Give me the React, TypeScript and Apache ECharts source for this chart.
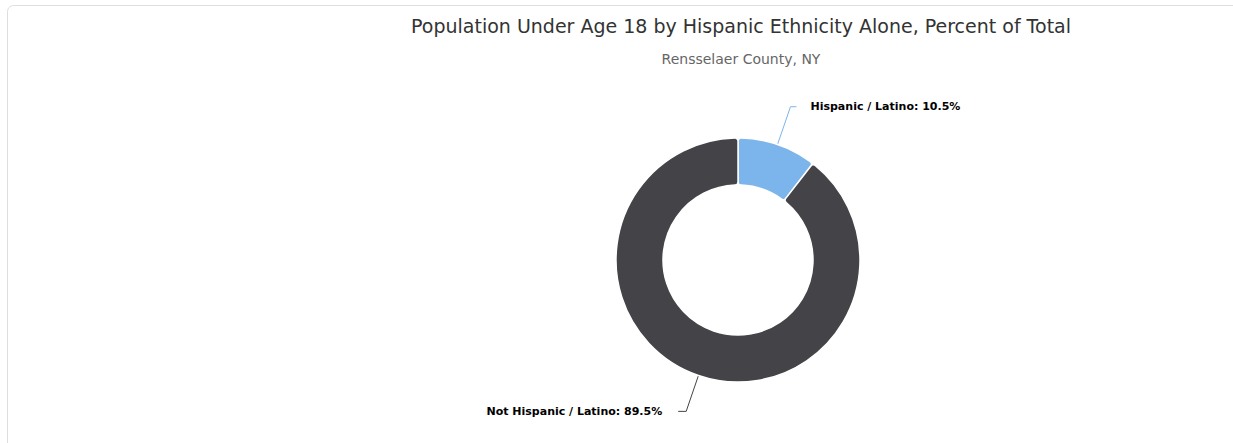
import React, { useEffect, useRef } from "react";
import * as echarts from "echarts";

const titleText = "Population Under Age 18 by Hispanic Ethnicity Alone, Percent of Total";
const subtitleText = "Rensselaer County, NY";
const categories = ["Hispanic / Latino", "Not Hispanic / Latino"];
const values = [10.5, 89.5];
const colors = ["#7cb5ec", "#434348"];

export default function App() {
  const ref = useRef<HTMLDivElement>(null);
  useEffect(() => {
    const chart = echarts.init(ref.current!, null, { renderer: "svg" });
    const font = "'DejaVu Sans', Verdana, sans-serif";
    const lineLen = [40, 38];
    const lineLen2 = [6, 8];
    const gap = [14, 16];
    chart.setOption({
      animation: false,
      graphic: [
        {
          type: "rect",
          shape: { x: 7.5, y: 5.5, width: 1260, height: 460, r: 6 },
          style: { fill: "none", stroke: "#dedede", lineWidth: 1 },
          silent: true,
        },
      ],
      title: {
        text: titleText,
        subtext: subtitleText,
        left: 736,
        textAlign: "center",
        top: 11,
        itemGap: 17,
        textStyle: { fontFamily: font, fontSize: 19, fontWeight: "normal", color: "#333333" },
        subtextStyle: { fontFamily: font, fontSize: 14, color: "#666666" },
      },
      series: [
        {
          type: "pie",
          center: [738, 260],
          radius: [75, 122],
          startAngle: 90,
          clockwise: true,
          avoidLabelOverlap: false,
          itemStyle: { borderColor: "#ffffff", borderWidth: 1.5, borderRadius: 3 },
          label: {
            show: true,
            formatter: "{b}: {c}%",
            fontFamily: font,
            fontSize: 11,
            fontWeight: "bold",
            color: "#000000",
            distanceToLabelLine: 14,
          },
          labelLine: { show: true, length: 38, length2: 7, smooth: false, lineStyle: { width: 1 } },
          data: categories.map((c, i) => ({
            name: c,
            value: values[i],
            itemStyle: { color: colors[i] },
            label: { distanceToLabelLine: gap[i] },
            labelLine: { length: lineLen[i], length2: lineLen2[i], lineStyle: { color: colors[i] } },
          })),
        },
      ],
    });
    return () => chart.dispose();
  }, []);
  return (
    <div
      ref={ref}
      style={{ position: "fixed", left: 0, top: 0, width: 1233, height: 443, background: "#fff" }}
    />
  );
}
